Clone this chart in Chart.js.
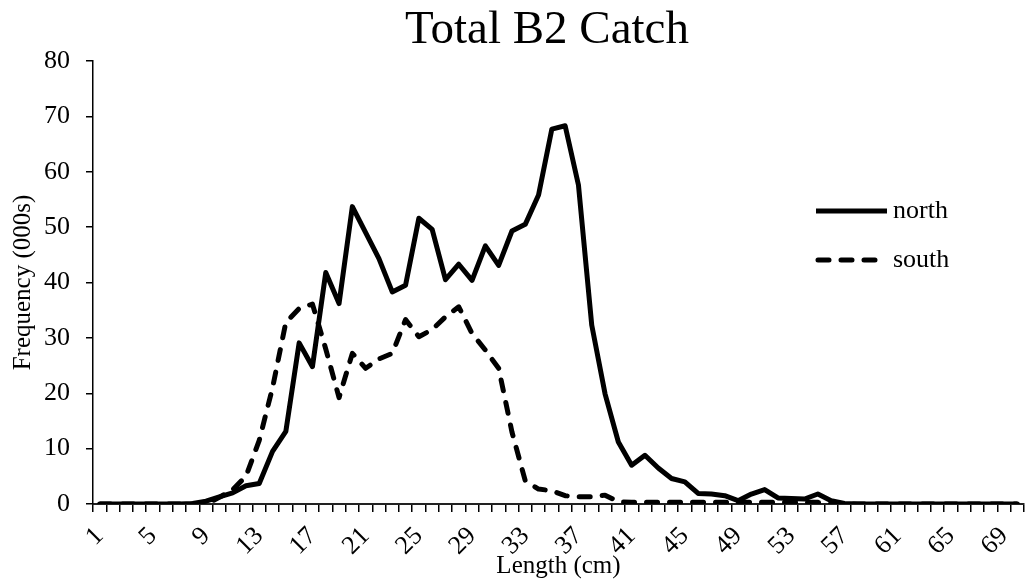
<!DOCTYPE html>
<html lang="en">
<head>
  <meta charset="UTF-8" />
  <title>Total B2 Catch</title>
  <script src="https://cdn.jsdelivr.net/npm/chart.js"></script>
  <style>
    body {
      margin: 0;
      background: white;
    }
    #chart {
      display: block;
    }
  </style>
</head>
<body>
  <canvas id="chart" width="1028" height="583"></canvas>

  <script>
    // length classes (cm)
    const lengths = [
      1, 2, 3, 4, 5, 6, 7, 8, 9, 10,
      11, 12, 13, 14, 15, 16, 17, 18, 19, 20,
      21, 22, 23, 24, 25, 26, 27, 28, 29, 30,
      31, 32, 33, 34, 35, 36, 37, 38, 39, 40,
      41, 42, 43, 44, 45, 46, 47, 48, 49, 50,
      51, 52, 53, 54, 55, 56, 57, 58, 59, 60,
      61, 62, 63, 64, 65, 66, 67, 68, 69, 70
    ];

    // frequency (000s)
    const north = [
      0, 0, 0, 0, 0, 0, 0, 0.1, 0.5, 1.3,
      2.0, 3.3, 3.7, 9.5, 13.1, 29.1, 24.8, 41.8, 36.2, 53.7,
      49.0, 44.3, 38.3, 39.5, 51.6, 49.6, 40.5, 43.3, 40.4, 46.6,
      43.1, 49.3, 50.5, 55.8, 67.7, 68.3, 57.6, 32.3, 19.9, 11.2,
      7.0, 8.8, 6.5, 4.6, 4.0, 1.9, 1.8, 1.5, 0.6, 1.8,
      2.6, 1.1, 1.0, 0.9, 1.8, 0.6, 0.1, 0, 0, 0,
      0, 0, 0, 0, 0, 0, 0, 0, 0, 0
    ];

    const south = [
      0, 0, 0, 0, 0, 0, 0, 0, 0, 1.2,
      2.6, 5.0, 11.5, 21.0, 32.8, 35.3, 36.1, 28.0, 19.2, 27.2,
      24.5, 26.2, 27.2, 33.3, 30.2, 31.5, 33.8, 35.6, 30.8, 27.8,
      24.5, 13.0, 4.2, 2.7, 2.4, 1.5, 1.3, 1.3, 1.6, 0.4,
      0.3, 0.3, 0.3, 0.3, 0.3, 0.3, 0.3, 0.3, 0.3, 0.3,
      0.3, 0.3, 0.3, 0.3, 0.3, 0, 0, 0, 0, 0,
      0, 0, 0, 0, 0, 0, 0, 0, 0, 0
    ];

    const yMin = 0;
    const yMax = 80;
    const yStep = 10;

    const serif = "'Liberation Serif', 'Times New Roman', serif";
    Chart.defaults.font.family = serif;
    Chart.defaults.color = "#000";

    // title and in-plot legend, drawn the way the original places them
    const decorations = {
      id: "decorations",
      afterDraw(chart) {
        const ctx = chart.ctx;
        ctx.save();
        ctx.fillStyle = "#000";
        ctx.font = "47px " + serif;
        ctx.textAlign = "center";
        ctx.textBaseline = "alphabetic";
        ctx.fillText("Total B2 Catch", 547, 43);

        const rows = [211, 260];
        chart.data.datasets.forEach((ds, i) => {
          const y = rows[i];
          ctx.strokeStyle = ds.borderColor;
          ctx.lineWidth = ds.borderWidth;
          ctx.lineCap = ds.borderCapStyle;
          ctx.setLineDash(ds.borderDash || []);
          ctx.beginPath();
          if (ds.borderDash && ds.borderDash.length) {
            ctx.moveTo(818, y);
            ctx.lineTo(876, y);
          } else {
            ctx.moveTo(816, y);
            ctx.lineTo(887, y);
          }
          ctx.stroke();
          ctx.setLineDash([]);
          ctx.font = "26px " + serif;
          ctx.textAlign = "left";
          ctx.textBaseline = "middle";
          ctx.fillText(ds.label, 893, y);
        });
        ctx.restore();
      }
    };

    const ctx = document.getElementById("chart").getContext("2d");
    new Chart(ctx, {
      type: "line",
      data: {
        labels: lengths,
        datasets: [
          {
            label: "north",
            data: north,
            borderColor: "#000",
            borderWidth: 5,
            borderCapStyle: "butt",
            borderJoinStyle: "round",
            pointRadius: 0,
            tension: 0,
            fill: false
          },
          {
            label: "south",
            data: south,
            borderColor: "#000",
            borderWidth: 5,
            borderDash: [11, 12],
            borderCapStyle: "round",
            borderJoinStyle: "round",
            pointRadius: 0,
            tension: 0,
            fill: false
          }
        ]
      },
      options: {
        responsive: false,
        animation: false,
        devicePixelRatio: 1,
        layout: {
          padding: { top: 61, right: 4, left: 0, bottom: 0 }
        },
        plugins: {
          legend: { display: false },
          tooltip: { enabled: false }
        },
        scales: {
          x: {
            type: "category",
            offset: true,
            grid: {
              offset: true,
              drawOnChartArea: false,
              tickLength: 8,
              color: "#000",
              lineWidth: 1.5
            },
            border: { color: "#222", width: 2 },
            ticks: {
              autoSkip: false,
              minRotation: 45,
              maxRotation: 45,
              padding: 9,
              font: { size: 26 },
              callback: (value, index) => (index % 4 === 0 ? String(lengths[index]) : "")
            },
            title: {
              display: true,
              text: "Length (cm)",
              font: { size: 25 },
              padding: { top: 0, bottom: 2 }
            },
            afterFit: scale => {
              scale.height = 79;
              scale.paddingLeft = 0;
              scale.paddingRight = 0;
            }
          },
          y: {
            min: yMin,
            max: yMax,
            grid: {
              drawOnChartArea: false,
              tickLength: 7,
              color: "#000",
              lineWidth: 1.5
            },
            border: { color: "#000", width: 1.5 },
            ticks: {
              stepSize: yStep,
              padding: 16,
              font: { size: 26 }
            },
            title: {
              display: true,
              text: "Frequency (000s)",
              font: { size: 25 },
              padding: { top: 8, bottom: 0 }
            },
            afterFit: scale => { scale.width = 93; }
          }
        }
      },
      plugins: [decorations]
    });
  </script>
</body>
</html>
